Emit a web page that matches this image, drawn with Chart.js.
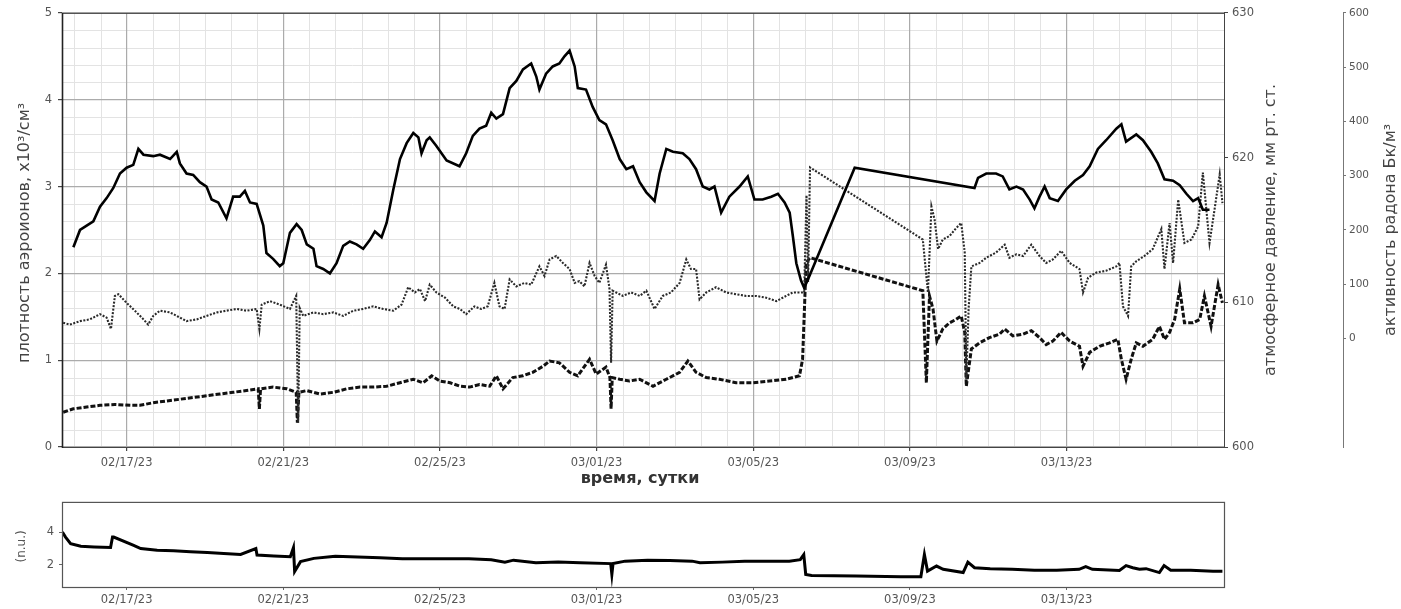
<!DOCTYPE html>
<html>
<head>
<meta charset="utf-8">
<script src="https://cdn.jsdelivr.net/npm/chart.js@4.4.1/dist/chart.umd.min.js"></script>
<style>
  html, body { margin: 0; padding: 0; background: #fff; }
  #wrap { position: relative; width: 1401px; height: 609px; overflow: hidden; }
  #main { position: absolute; left: 0; top: 0; }
  #ratio { position: absolute; left: 0; top: 490px; }
</style>
</head>
<body>
<div id="wrap">
  <canvas id="main" width="1401" height="490"></canvas>
  <canvas id="ratio" width="1401" height="119"></canvas>
</div>
<script>
// ---- time axis: days since 02/17/23 00:00 ----
const xTickDays   = [0, 4, 8, 12, 16, 20, 24];
const xTickLabels = ['02/17/23', '02/21/23', '02/25/23', '03/01/23', '03/05/23', '03/09/23', '03/13/23'];
const leftTicks     = [0, 1, 2, 3, 4, 5];
const pressureTicks = [600, 610, 620, 630];
const radonTicks    = [0, 100, 200, 300, 400, 500, 600];
const ratioTicks    = [2, 4];

// ---- atmospheric pressure, mm Hg ----
const pressureT = [-1.36,-1.19,-1.02,-0.85,-0.68,-0.51,-0.34,-0.17,0,0.17,0.30,0.43,0.68,0.85,1.11,1.28,1.36,1.53,1.70,1.87,2.04,2.17,2.34,2.55,2.72,2.89,3.02,3.15,3.32,3.49,3.57,3.74,3.91,4.0,4.17,4.34,4.47,4.60,4.77,4.85,5.02,5.19,5.36,5.53,5.70,5.87,6.04,6.21,6.34,6.51,6.64,6.81,6.98,7.15,7.32,7.45,7.53,7.66,7.74,7.91,8.17,8.50,8.67,8.84,9.01,9.18,9.31,9.44,9.61,9.78,9.95,10.12,10.33,10.46,10.54,10.71,10.88,11.05,11.18,11.31,11.44,11.52,11.73,11.90,12.07,12.24,12.41,12.59,12.76,12.93,13.10,13.27,13.48,13.61,13.78,13.95,14.20,14.37,14.54,14.71,14.88,15.01,15.18,15.39,15.65,15.86,16.03,16.24,16.46,16.63,16.80,16.93,17.01,17.10,17.22,17.30,17.40,18.59,21.65,21.74,21.95,22.20,22.37,22.54,22.72,22.89,23.06,23.18,23.31,23.44,23.57,23.78,23.99,24.21,24.42,24.59,24.80,25.01,25.27,25.40,25.52,25.78,25.95,26.16,26.33,26.50,26.72,26.89,27.06,27.23,27.36,27.48,27.65];
const pressureV = [613.8,615.0,615.3,615.6,616.6,617.2,617.9,618.9,619.3,619.5,620.6,620.2,620.1,620.2,619.9,620.4,619.6,618.9,618.8,618.3,618.0,617.1,616.9,615.8,617.3,617.3,617.7,616.9,616.8,615.3,613.4,613.0,612.5,612.7,614.8,615.4,615.0,614.0,613.7,612.5,612.3,612.0,612.7,613.9,614.2,614.0,613.7,614.3,614.9,614.5,615.5,617.8,619.9,621.0,621.7,621.4,620.3,621.2,621.4,620.8,619.8,619.4,620.3,621.5,622.0,622.2,623.1,622.7,623.0,624.8,625.3,626.1,626.5,625.6,624.7,625.8,626.3,626.5,627.0,627.4,626.3,624.8,624.7,623.5,622.6,622.3,621.2,619.9,619.2,619.4,618.3,617.6,617.0,618.9,620.6,620.4,620.3,619.9,619.2,618.0,617.8,618.0,616.2,617.3,618.0,618.7,617.1,617.1,617.3,617.5,616.9,616.2,614.6,612.7,611.5,611.0,611.6,619.3,617.9,618.6,618.9,618.9,618.7,617.8,618.0,617.8,617.1,616.5,617.3,618.0,617.2,617.0,617.8,618.4,618.8,619.4,620.6,621.2,622.0,622.3,621.1,621.6,621.2,620.4,619.6,618.5,618.4,618.1,617.5,617.0,617.2,616.4,616.4];

// ---- aeroion density (upper, dotted), x10^3/cm^3 ----
const ionPosT = [-1.62,-1.45,-1.19,-0.94,-0.68,-0.51,-0.40,-0.30,-0.21,0,0.21,0.43,0.55,0.68,0.85,1.11,1.28,1.53,1.79,2.04,2.30,2.55,2.81,3.06,3.32,3.39,3.45,3.66,3.91,4.17,4.33,4.38,4.42,4.51,4.77,5.02,5.28,5.53,5.79,6.04,6.30,6.55,6.81,7.02,7.19,7.36,7.49,7.62,7.74,7.91,8.13,8.34,8.51,8.67,8.88,9.05,9.22,9.39,9.52,9.65,9.78,9.95,10.16,10.33,10.54,10.67,10.80,10.97,11.14,11.31,11.44,11.56,11.69,11.82,11.95,12.07,12.24,12.33,12.37,12.41,12.50,12.67,12.88,13.10,13.27,13.48,13.69,13.90,14.12,14.29,14.41,14.54,14.63,14.80,15.05,15.31,15.56,15.82,16.07,16.33,16.59,16.84,17.01,17.18,17.30,17.36,17.40,17.45,20.33,20.46,20.55,20.63,20.72,20.84,21.01,21.18,21.31,21.40,21.44,21.50,21.57,21.78,21.95,22.20,22.42,22.54,22.72,22.89,23.10,23.31,23.48,23.65,23.86,24.08,24.33,24.42,24.55,24.76,25.01,25.27,25.35,25.44,25.57,25.65,25.78,25.99,26.20,26.42,26.50,26.63,26.72,26.85,27.01,27.19,27.36,27.48,27.65,27.78,27.91,27.98];
const ionPosV = [1.43,1.41,1.45,1.47,1.53,1.49,1.36,1.74,1.76,1.66,1.57,1.47,1.41,1.51,1.57,1.55,1.51,1.45,1.47,1.51,1.55,1.57,1.59,1.57,1.59,1.36,1.64,1.68,1.64,1.59,1.74,0.28,1.60,1.51,1.55,1.53,1.55,1.51,1.57,1.59,1.62,1.59,1.57,1.64,1.84,1.78,1.82,1.68,1.87,1.78,1.72,1.62,1.59,1.53,1.62,1.59,1.62,1.89,1.62,1.59,1.93,1.85,1.89,1.87,2.08,1.97,2.16,2.20,2.12,2.05,1.89,1.91,1.85,2.12,1.97,1.89,2.10,1.82,0.97,1.80,1.78,1.74,1.78,1.74,1.80,1.59,1.74,1.78,1.89,2.16,2.05,2.05,1.70,1.78,1.84,1.78,1.76,1.74,1.74,1.72,1.68,1.74,1.78,1.78,1.78,2.90,1.90,3.22,2.39,1.78,2.77,2.62,2.28,2.39,2.43,2.52,2.58,2.24,0.78,1.60,2.08,2.12,2.18,2.24,2.33,2.18,2.22,2.20,2.33,2.20,2.12,2.16,2.26,2.12,2.05,1.78,1.95,2.01,2.03,2.08,2.12,1.62,1.51,2.08,2.14,2.20,2.28,2.51,2.05,2.58,2.12,2.85,2.35,2.39,2.54,3.16,2.35,2.74,3.14,2.81];

// ---- aeroion density (lower, dashed), x10^3/cm^3 ----
const ionNegT = [-1.62,-1.36,-1.02,-0.68,-0.30,0.10,0.34,0.68,1.02,1.36,1.70,2.04,2.38,2.72,3.06,3.36,3.39,3.42,3.74,4.09,4.33,4.36,4.40,4.60,4.94,5.28,5.62,5.96,6.30,6.64,6.98,7.32,7.57,7.79,8.00,8.26,8.51,8.76,9.01,9.27,9.44,9.61,9.86,10.12,10.37,10.63,10.80,11.05,11.31,11.52,11.82,11.99,12.24,12.34,12.37,12.40,12.59,12.84,13.10,13.44,13.78,14.12,14.33,14.54,14.80,15.14,15.56,15.99,16.41,16.84,17.18,17.26,17.35,17.45,20.33,20.42,20.50,20.59,20.69,20.84,21.01,21.18,21.31,21.40,21.44,21.57,21.78,22.03,22.29,22.42,22.63,22.89,23.10,23.31,23.48,23.65,23.86,24.08,24.33,24.42,24.59,24.84,25.10,25.31,25.40,25.52,25.65,25.78,25.95,26.20,26.37,26.50,26.63,26.76,26.89,27.01,27.23,27.40,27.52,27.69,27.87,27.98];
const ionNegV = [0.40,0.44,0.46,0.48,0.49,0.48,0.48,0.51,0.53,0.55,0.57,0.59,0.61,0.63,0.65,0.67,0.44,0.67,0.69,0.67,0.63,0.28,0.63,0.65,0.61,0.63,0.67,0.69,0.69,0.70,0.74,0.78,0.74,0.82,0.76,0.74,0.70,0.69,0.72,0.70,0.82,0.67,0.80,0.82,0.86,0.93,0.99,0.97,0.86,0.82,1.01,0.84,0.92,0.80,0.44,0.80,0.78,0.76,0.78,0.70,0.78,0.86,0.99,0.86,0.80,0.78,0.74,0.74,0.76,0.78,0.82,1.01,2.12,2.18,1.80,0.74,1.74,1.59,1.22,1.36,1.43,1.47,1.51,1.32,0.70,1.13,1.20,1.26,1.30,1.36,1.28,1.30,1.34,1.26,1.18,1.22,1.32,1.22,1.16,0.93,1.09,1.16,1.20,1.24,1.01,0.78,1.01,1.20,1.16,1.24,1.39,1.24,1.32,1.47,1.82,1.43,1.43,1.47,1.74,1.39,1.87,1.66];

// ---- lower panel: relative units ----
const ratioT = [-1.64,-1.56,-1.43,-1.17,-0.83,-0.41,-0.36,-0.33,0.18,0.36,0.78,1.20,1.63,2.06,2.48,2.91,3.30,3.33,3.76,4.18,4.26,4.29,4.44,4.78,5.20,5.33,5.90,6.47,7.04,7.60,8.17,8.74,9.31,9.66,9.88,10.45,11.02,11.58,12.36,12.39,12.42,12.73,13.30,13.87,14.44,14.64,15.21,15.78,16.35,16.92,17.20,17.29,17.34,17.49,18.63,19.77,20.28,20.37,20.45,20.68,20.85,21.36,21.48,21.65,22.05,22.61,23.18,23.75,24.32,24.49,24.66,25.35,25.52,25.69,25.86,26.03,26.37,26.49,26.66,27.17,27.74,27.98];
const ratioV = [4.0,3.70,3.30,3.14,3.10,3.06,3.70,3.70,3.20,3.00,2.90,2.86,2.80,2.76,2.70,2.64,3.00,2.60,2.54,2.50,3.06,1.60,2.20,2.40,2.50,2.53,2.49,2.43,2.38,2.37,2.37,2.38,2.32,2.17,2.29,2.13,2.17,2.13,2.08,1.42,2.08,2.23,2.29,2.27,2.23,2.13,2.17,2.23,2.23,2.23,2.32,2.63,1.42,1.36,1.32,1.28,1.28,2.63,1.62,1.93,1.73,1.53,2.17,1.83,1.77,1.73,1.68,1.68,1.73,1.89,1.73,1.66,1.96,1.83,1.73,1.77,1.53,1.96,1.68,1.68,1.62,1.62];

const XMIN = -1.65, XMAX = 28.02;
const FONT = "'DejaVu Sans', sans-serif";
const TICK_COLOR = '#555';
const MAJOR_GRID = '#ababab';
const MINOR_GRID = '#e3e3e3';

function pts(t, v) { return t.map((x, i) => ({ x: x, y: v[i] })); }
function fixedTicks(list) { return s => { s.ticks = list.map(v => ({ value: v })); }; }
function xLabel(value) { const i = xTickDays.indexOf(value); return i >= 0 ? xTickLabels[i] : ''; }

function rotText(ctx, text, x, y, font, color) {
  ctx.save();
  ctx.translate(x, y);
  ctx.rotate(-Math.PI / 2);
  ctx.font = font;
  ctx.fillStyle = color;
  ctx.textAlign = 'center';
  ctx.textBaseline = 'middle';
  ctx.fillText(text, 0, 0);
  ctx.restore();
}

const mainDecor = {
  id: 'mainDecor',
  beforeDraw(chart) {
    const ctx = chart.ctx, a = chart.chartArea, xs = chart.scales.x, ys = chart.scales.y;
    ctx.save();
    ctx.strokeStyle = MINOR_GRID;
    ctx.lineWidth = 1;
    for (let k = -3; k <= 43; k++) {
      if (k % 6 === 0) continue;
      const t = k * 2 / 3;
      if (t <= XMIN || t >= XMAX) continue;
      const px = Math.round(xs.getPixelForValue(t)) + 0.5;
      ctx.beginPath(); ctx.moveTo(px, a.top); ctx.lineTo(px, a.bottom); ctx.stroke();
    }
    for (let k = 1; k < 25; k++) {
      if (k % 5 === 0) continue;
      const py = Math.round(ys.getPixelForValue(k * 0.2)) + 0.5;
      ctx.beginPath(); ctx.moveTo(a.left, py); ctx.lineTo(a.right, py); ctx.stroke();
    }
    ctx.restore();
  },
  afterDraw(chart) {
    const ctx = chart.ctx, a = chart.chartArea;
    ctx.save();
    ctx.strokeStyle = '#444';
    ctx.lineWidth = 1;
    ctx.strokeRect(a.left + 0.5, a.top + 0.5, a.right - a.left, a.bottom - a.top);
    ctx.strokeStyle = '#222';
    ctx.lineWidth = 1.6;
    ctx.beginPath(); ctx.moveTo(a.left + 0.5, a.top); ctx.lineTo(a.left + 0.5, a.bottom + 1); ctx.stroke();
    ctx.restore();
    const mid = (a.top + a.bottom) / 2;
    rotText(ctx, 'плотность аэроионов, x10³/см³', 25, mid + 3, '16px ' + FONT, '#444');
    rotText(ctx, 'атмосферное давление, мм рт. ст.', 1271, mid, '16px ' + FONT, '#444');
    rotText(ctx, 'активность радона Бк/м³', 1391, mid, '16px ' + FONT, '#444');
    ctx.save();
    ctx.font = 'bold 16px ' + FONT;
    ctx.fillStyle = '#333';
    ctx.textAlign = 'center';
    ctx.textBaseline = 'middle';
    ctx.fillText('время, сутки', 640, 479);
    ctx.restore();
  }
};

new Chart(document.getElementById('main'), {
  type: 'line',
  data: {
    datasets: [
      { label: 'pressure', data: pts(pressureT, pressureV), yAxisID: 'yP',
        borderColor: '#000', borderWidth: 2.6, pointRadius: 0, tension: 0, fill: false },
      { label: 'ionUpper', data: pts(ionPosT, ionPosV), yAxisID: 'y',
        borderColor: '#2a2a2a', borderWidth: 2.1, borderDash: [2, 1.5], pointRadius: 0, tension: 0, fill: false },
      { label: 'ionLower', data: pts(ionNegT, ionNegV), yAxisID: 'y',
        borderColor: '#111', borderWidth: 3, borderDash: [5, 2], pointRadius: 0, tension: 0, fill: false }
    ]
  },
  options: {
    responsive: false, animation: false, devicePixelRatio: 1,
    layout: { padding: { top: 12, right: 0, left: 0, bottom: 0 } },
    plugins: { legend: { display: false }, tooltip: { enabled: false } },
    scales: {
      x: {
        type: 'linear', min: XMIN, max: XMAX,
        afterBuildTicks: fixedTicks(xTickDays),
        afterFit: s => { s.height = 43; },
        border: { display: false },
        grid: { color: MAJOR_GRID, lineWidth: 1.2, tickLength: 4, tickColor: '#444' },
        ticks: { callback: v => xLabel(v), color: TICK_COLOR, font: { family: FONT, size: 11.5 }, padding: 5, maxRotation: 0, autoSkip: false }
      },
      y: {
        position: 'left', min: 0, max: 5,
        afterBuildTicks: fixedTicks(leftTicks),
        afterFit: s => { s.width = 62; },
        border: { display: false },
        grid: { color: MAJOR_GRID, lineWidth: 1.2, tickLength: 4, tickColor: '#444' },
        ticks: { color: TICK_COLOR, font: { family: FONT, size: 11.5 }, padding: 6 }
      },
      yP: {
        position: 'right', min: 600, max: 630,
        afterBuildTicks: fixedTicks(pressureTicks),
        afterFit: s => { s.width = 119; },
        border: { display: false },
        grid: { drawOnChartArea: false, tickLength: 4, tickColor: '#444' },
        ticks: { color: TICK_COLOR, font: { family: FONT, size: 11.5 }, padding: 4 }
      },
      yR: {
        position: 'right', min: -200, max: 600,
        afterBuildTicks: fixedTicks(radonTicks),
        afterFit: s => { s.width = 58; },
        border: { display: true, color: '#777', width: 1 },
        grid: { drawOnChartArea: false, tickLength: 3, tickColor: '#777' },
        ticks: { color: TICK_COLOR, font: { family: FONT, size: 10.5 }, padding: 3 }
      }
    }
  },
  plugins: [mainDecor]
});

const ratioDecor = {
  id: 'ratioDecor',
  afterDraw(chart) {
    const ctx = chart.ctx, a = chart.chartArea;
    ctx.save();
    ctx.strokeStyle = '#555';
    ctx.lineWidth = 1.2;
    ctx.strokeRect(a.left + 0.5, a.top + 0.5, a.right - a.left, a.bottom - a.top);
    ctx.restore();
    rotText(ctx, '(n.u.)', 22, (a.top + a.bottom) / 2 + 2, '12px ' + FONT, '#555');
  }
};

new Chart(document.getElementById('ratio'), {
  type: 'line',
  data: {
    datasets: [
      { label: 'ratio', data: pts(ratioT, ratioV), borderColor: '#000', borderWidth: 3,
        pointRadius: 0, tension: 0, fill: false }
    ]
  },
  options: {
    responsive: false, animation: false, devicePixelRatio: 1,
    layout: { padding: { top: 11, right: 177, left: 0, bottom: 0 } },
    plugins: { legend: { display: false }, tooltip: { enabled: false } },
    scales: {
      x: {
        type: 'linear', min: XMIN, max: XMAX,
        afterBuildTicks: fixedTicks(xTickDays),
        afterFit: s => { s.height = 22; },
        border: { display: false },
        grid: { drawOnChartArea: false, tickLength: 3, tickColor: '#666' },
        ticks: { callback: v => xLabel(v), color: TICK_COLOR, font: { family: FONT, size: 11.5 }, padding: 3, maxRotation: 0, autoSkip: false }
      },
      y: {
        min: 0.65, max: 5.85,
        afterBuildTicks: fixedTicks(ratioTicks),
        afterFit: s => { s.width = 62; },
        border: { display: false },
        grid: { drawOnChartArea: false, tickLength: 3, tickColor: '#666' },
        ticks: { color: TICK_COLOR, font: { family: FONT, size: 11.5 }, padding: 5 }
      }
    }
  },
  plugins: [ratioDecor]
});
</script>
</body>
</html>
